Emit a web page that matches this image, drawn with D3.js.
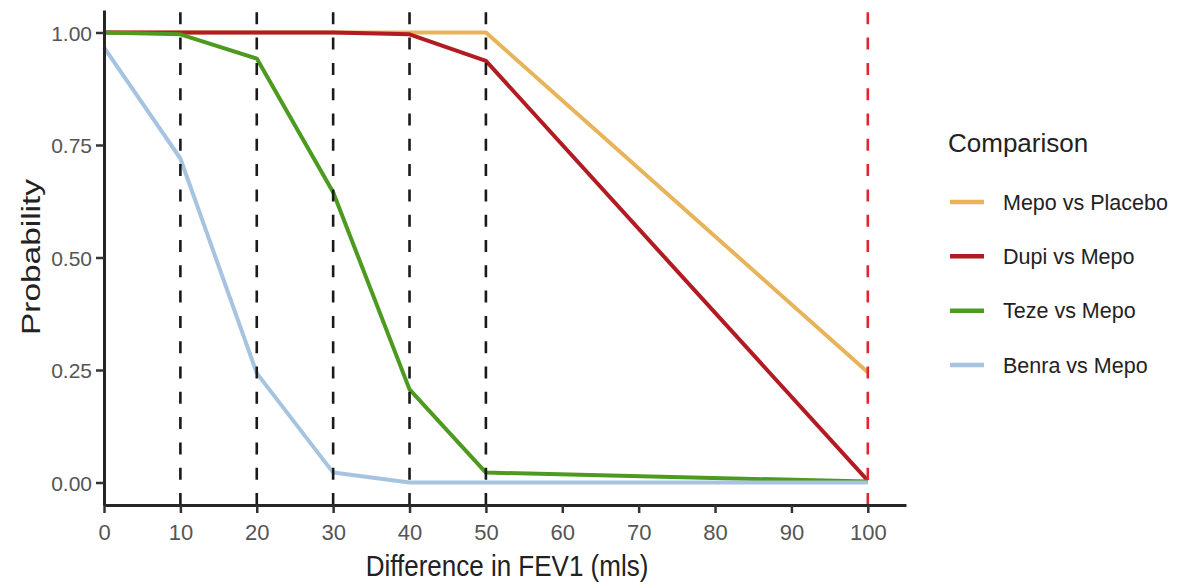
<!DOCTYPE html>
<html>
<head>
<meta charset="utf-8">
<script src="https://cdn.jsdelivr.net/npm/d3@7"></script>
<style>
  html, body { margin: 0; padding: 0; background: #fff; }
  svg { display: block; font-family: "Liberation Sans", Arial, Helvetica, sans-serif; }
</style>
</head>
<body>
<svg id="chart" width="1193" height="584"></svg>
<script>
// FEV1 difference thresholds (mls)
const thresholds = [0, 10, 20, 30, 40, 50, 100];

// Probability that the difference exceeds each threshold, per comparison
const mepoVsPlacebo = [1.00, 1.00, 1.00, 1.00, 1.00, 1.00, 0.245];
const dupiVsMepo    = [1.00, 1.00, 1.00, 1.00, 0.996, 0.937, 0.004];
const tezeVsMepo    = [1.00, 0.996, 0.942, 0.645, 0.207, 0.022, 0.002];
const benraVsMepo   = [0.967, 0.72, 0.243, 0.022, 0.00, 0.00, 0.00];

const seriesNames  = ["Mepo vs Placebo", "Dupi vs Mepo", "Teze vs Mepo", "Benra vs Mepo"];
const seriesColors = ["#E8B45A", "#B31B22", "#4C9A1F", "#A6C4E0"];

// Reference lines
const dashedBlack = [10, 20, 30, 40, 50];
const dashedRed   = [100];

const xTicks = [0, 10, 20, 30, 40, 50, 60, 70, 80, 90, 100];
const yTicks = [0, 0.25, 0.5, 0.75, 1.0];

const svg = d3.select("#chart");

const x = d3.scaleLinear().domain([0, 105]).range([104, 906]);
const y = d3.scaleLinear().domain([-0.05, 1.05]).range([505, 10]);

const allSeries = [mepoVsPlacebo, dupiVsMepo, tezeVsMepo, benraVsMepo].map((vals, i) => ({
  name: seriesNames[i],
  color: seriesColors[i],
  points: thresholds.map((t, j) => [t, vals[j]])
}));

const line = d3.line().x(d => x(d[0])).y(d => y(d[1]));

// Data lines
svg.append("g").selectAll("path")
  .data(allSeries)
  .join("path")
  .attr("d", d => line(d.points))
  .attr("fill", "none")
  .attr("stroke", d => d.color)
  .attr("stroke-width", 4)
  .attr("stroke-linejoin", "round");

// Vertical dashed reference lines (drawn from the bottom up)
const vlines = svg.append("g");
function addVLines(values, color) {
  vlines.selectAll(null)
    .data(values)
    .join("line")
    .attr("x1", d => x(d)).attr("x2", d => x(d))
    .attr("y1", y.range()[0]).attr("y2", y.range()[1])
    .attr("stroke", color)
    .attr("stroke-width", 2.6)
    .attr("stroke-dasharray", "12,13.3");
}
addVLines(dashedBlack, "#1a1a1a");
addVLines(dashedRed, "#E0252E");

// Axes
const xAxis = svg.append("g")
  .attr("transform", `translate(0,${y.range()[0]})`)
  .call(d3.axisBottom(x).tickValues(xTicks).tickSize(8).tickPadding(7).tickSizeOuter(0));
const yAxis = svg.append("g")
  .attr("transform", `translate(${x.range()[0]},0)`)
  .call(d3.axisLeft(y).tickValues(yTicks).tickFormat(d3.format(".2f")).tickSize(8).tickPadding(4).tickSizeOuter(0));

[xAxis, yAxis].forEach(g => {
  g.select(".domain").attr("stroke", "#262626").attr("stroke-width", 3);
  g.selectAll(".tick line").attr("stroke", "#333").attr("stroke-width", 2.5);
  g.selectAll(".tick text")
    .attr("fill", "#555")
    .style("font-size", "21px")
    .style("font-family", "'Liberation Sans', Arial, sans-serif");
});
xAxis.selectAll(".tick text").attr("dy", "0.9em").style("font-size", "22px");
yAxis.selectAll(".tick text").attr("dy", "0.36em");

// Axis titles
svg.append("text")
  .attr("transform", "translate(507,576) scale(1,1.1)")
  .attr("text-anchor", "middle")
  .attr("fill", "#222")
  .style("font-size", "26px")
  .text("Difference in FEV1 (mls)");

svg.append("text")
  .attr("transform", "translate(40,257) rotate(-90)")
  .attr("text-anchor", "middle")
  .attr("fill", "#222")
  .style("font-size", "26px")
  .attr("textLength", 156)
  .attr("lengthAdjust", "spacingAndGlyphs")
  .text("Probability");

// Legend
const legend = svg.append("g");
legend.append("text")
  .attr("x", 948).attr("y", 152)
  .attr("fill", "#222")
  .style("font-size", "26px")
  .text("Comparison");

const legendY = d3.scalePoint().domain(seriesNames).range([202, 365]);
const items = legend.selectAll("g.item")
  .data(allSeries)
  .join("g")
  .attr("class", "item")
  .attr("transform", d => `translate(0,${legendY(d.name)})`);
items.append("line")
  .attr("x1", 950).attr("x2", 984)
  .attr("stroke", d => d.color)
  .attr("stroke-width", 4.5);
items.append("text")
  .attr("x", 1003).attr("dy", "0.36em")
  .attr("fill", "#222")
  .style("font-size", "21.5px")
  .text(d => d.name);
</script>
</body>
</html>
